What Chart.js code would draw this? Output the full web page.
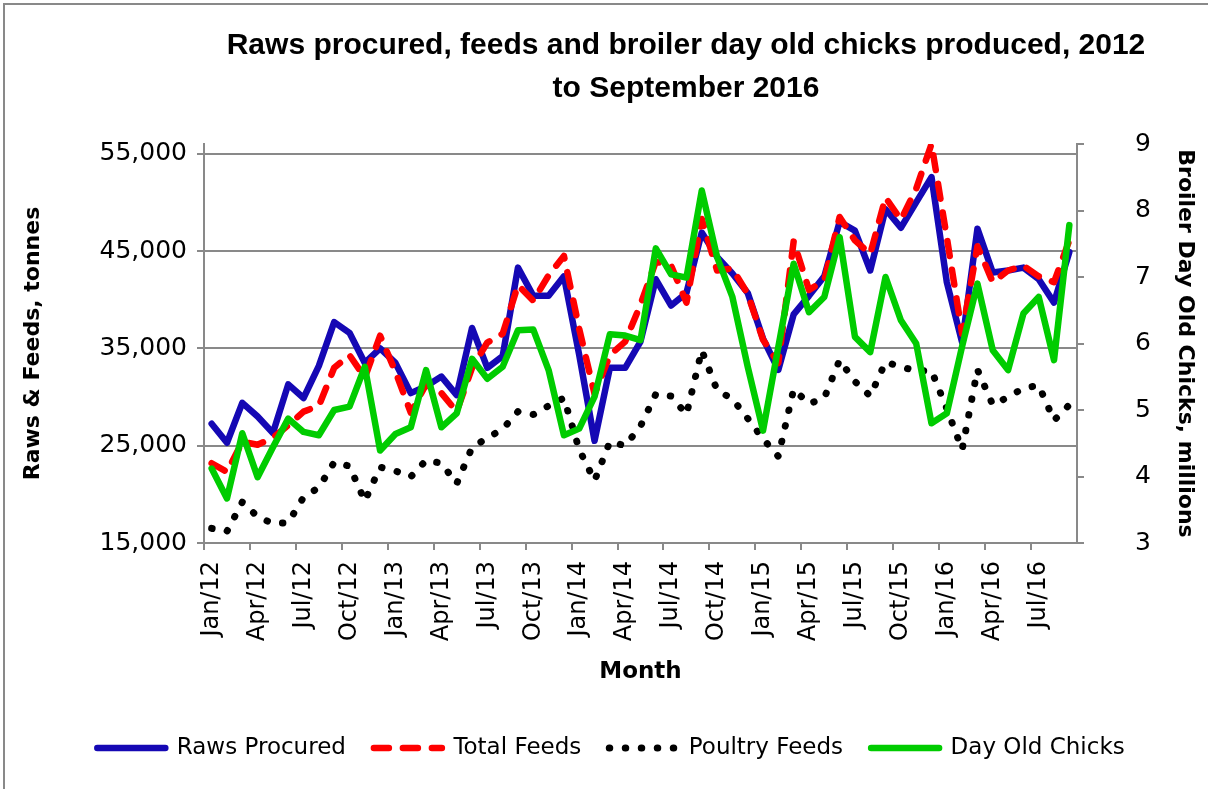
<!DOCTYPE html>
<html>
<head>
<meta charset="utf-8">
<script src="https://cdn.jsdelivr.net/npm/chart.js@4/dist/chart.umd.min.js"></script>
<style>
  body { margin: 0; background: #fff; }
  canvas { display: block; }
</style>
</head>
<body>
<canvas id="chart" width="1208" height="789"></canvas>
<script>
const months = [
  'Jan/12', 'Feb/12', 'Mar/12', 'Apr/12', 'May/12', 'Jun/12', 'Jul/12', 'Aug/12', 'Sep/12', 'Oct/12', 'Nov/12', 'Dec/12',
  'Jan/13', 'Feb/13', 'Mar/13', 'Apr/13', 'May/13', 'Jun/13', 'Jul/13', 'Aug/13', 'Sep/13', 'Oct/13', 'Nov/13', 'Dec/13',
  'Jan/14', 'Feb/14', 'Mar/14', 'Apr/14', 'May/14', 'Jun/14', 'Jul/14', 'Aug/14', 'Sep/14', 'Oct/14', 'Nov/14', 'Dec/14',
  'Jan/15', 'Feb/15', 'Mar/15', 'Apr/15', 'May/15', 'Jun/15', 'Jul/15', 'Aug/15', 'Sep/15', 'Oct/15', 'Nov/15', 'Dec/15',
  'Jan/16', 'Feb/16', 'Mar/16', 'Apr/16', 'May/16', 'Jun/16', 'Jul/16', 'Aug/16', 'Sep/16'
];

// tonnes, left axis
const rawsProcured = [
  27250, 25300, 29400, 28000, 26300, 31300, 29900, 33200, 37700, 36600, 33500, 35000,
  33500, 30400, 31100, 32100, 30200, 37100, 33000, 34200, 43300, 40400, 40400, 42400,
  34300, 25500, 33000, 33000, 35700, 42100, 39400, 40700, 46900, 44400, 42700, 40700,
  36000, 32800, 38500, 40400, 42400, 48000, 47100, 43000, 49300, 47400, 50000, 52600,
  41800, 35600, 47300, 42800, 43000, 43300, 42100, 39700, 44900
];
const totalFeeds = [
  23200, 22300, 25400, 25100, 25800, 27100, 28500, 29100, 33000, 34300, 32000, 36300,
  32600, 28400, 31300, 30400, 28500, 33000, 35600, 36500, 41500, 39900, 42500, 44500,
  37000, 30300, 34300, 35700, 39500, 43900, 43500, 39700, 48300, 43000, 43200, 40600,
  35900, 33500, 46000, 41000, 42000, 48500, 46100, 44700, 50500, 48200, 51400, 56000,
  46400, 36500, 45500, 41800, 43000, 43500, 42400, 41800, 46100
];
const poultryFeeds = [
  16500, 16200, 19200, 17700, 17000, 17100, 19700, 20700, 23300, 22900, 19300, 22800,
  22400, 21800, 23500, 23200, 21100, 24800, 25800, 26700, 28500, 28200, 29100, 29900,
  24600, 21400, 25400, 25000, 27000, 30300, 30100, 28200, 34800, 30700, 29800, 27800,
  25700, 23900, 30800, 29300, 29900, 33800, 31600, 30100, 33600, 33100, 32700, 32700,
  28800, 24600, 32800, 29200, 30000, 30900, 31200, 27600, 29200
];
// millions, right axis
const dayOldChicks = [
  4.12, 3.67, 4.65, 3.99, 4.44, 4.87, 4.67, 4.62, 5.00, 5.05, 5.65, 4.39,
  4.64, 4.74, 5.60, 4.74, 4.95, 5.77, 5.47, 5.65, 6.20, 6.21, 5.60, 4.62,
  4.72, 5.20, 6.14, 6.12, 6.05, 7.43, 7.04, 6.99, 8.30, 7.30, 6.70, 5.65,
  4.69, 5.95, 7.20, 6.47, 6.70, 7.60, 6.10, 5.87, 7.00, 6.35, 6.00, 4.80,
  4.95, 5.96, 6.90, 5.90, 5.60, 6.45, 6.70, 5.75, 7.78
];

const leftTicks = [15000, 25000, 35000, 45000, 55000];
const rightTicks = [3, 4, 5, 6, 7, 8, 9];
const titleLines = ['Raws procured, feeds and broiler day old chicks produced, 2012', 'to September 2016'];

const GREY = '#898989';

Chart.defaults.font.family = "'DejaVu Sans', sans-serif";
Chart.defaults.color = '#000';

// frame round the chart and the two-line title
const frameAndTitle = {
  id: 'frameAndTitle',
  beforeDraw(chart) {
    const ctx = chart.ctx;
    ctx.save();
    ctx.fillStyle = '#fff';
    ctx.fillRect(0, 0, chart.width, chart.height);
    ctx.strokeStyle = GREY;
    ctx.lineWidth = 2;
    ctx.strokeRect(4, 4, chart.width + 20, chart.height + 20);
    ctx.fillStyle = '#000';
    ctx.font = "bold 30px 'Liberation Sans', sans-serif";
    ctx.textAlign = 'center';
    ctx.textBaseline = 'middle';
    ctx.fillText(titleLines[0], 686, 46);
    ctx.fillText(titleLines[1], 686, 89);
    ctx.restore();
  }
};

function lineSet(label, data, axis, color, order, extra) {
  return Object.assign({
    label: label,
    data: data,
    yAxisID: axis,
    borderColor: color,
    backgroundColor: color,
    borderWidth: 6.5,
    borderCapStyle: 'round',
    borderJoinStyle: 'round',
    pointRadius: 0,
    tension: 0,
    fill: false,
    order: order
  }, extra || {});
}

const config = {
  type: 'line',
  data: {
    labels: months,
    datasets: [
      lineSet('Raws Procured', rawsProcured, 'y', '#1508b4', 3),
      lineSet('Total Feeds', totalFeeds, 'y', '#ff0000', 2, { borderDash: [15, 14] }),
      lineSet('Poultry Feeds', poultryFeeds, 'y', '#000000', 1, { borderDash: [0.5, 15.5], borderWidth: 7 }),
      lineSet('Day Old Chicks', dayOldChicks, 'y1', '#00cc00', 0)
    ]
  },
  options: {
    responsive: false,
    animation: false,
    devicePixelRatio: 1,
    layout: { padding: { top: 144, left: 14, right: 0, bottom: 19.5 } },
    plugins: {
      tooltip: { enabled: false },
      legend: {
        position: 'bottom',
        labels: {
          usePointStyle: true,
          pointStyleWidth: 68,
          padding: 28,
          font: { size: 23 },
          color: '#000',
          generateLabels: (chart) => chart.data.datasets.map((ds, i) => ({
            text: ds.label,
            datasetIndex: i,
            hidden: false,
            fillStyle: ds.borderColor,
            strokeStyle: ds.borderColor,
            lineWidth: ds.borderWidth,
            lineDash: ds.borderDash || [],
            lineCap: ds.borderCapStyle,
            pointStyle: 'line'
          }))
        }
      }
    },
    scales: {
      x: {
        offset: true,
        grid: {
          offset: true,
          drawOnChartArea: false,
          tickLength: 7,
          lineWidth: 2,
          color: (ctx) => ctx.index % 3 === 0 ? GREY : 'rgba(0,0,0,0)'
        },
        border: { color: GREY, width: 2 },
        ticks: {
          autoSkip: false,
          minRotation: 90,
          maxRotation: 90,
          padding: 11,
          font: { size: 24 },
          callback: function (value, index) {
            return index % 3 === 0 ? this.getLabelForValue(value) : '';
          }
        },
        title: {
          display: true,
          text: 'Month',
          font: { size: 23, weight: 'bold' },
          padding: { top: 0, bottom: 23 }
        },
        afterFit: (scale) => {
          scale.height = 165.5;
          scale.paddingLeft = 0;
          scale.paddingRight = 0;
        }
      },
      y: {
        position: 'left',
        min: 15000,
        max: 56000,
        afterBuildTicks: (scale) => { scale.ticks = leftTicks.map(v => ({ value: v })); },
        grid: { color: GREY, lineWidth: 2, tickLength: 7 },
        border: { color: GREY, width: 2 },
        ticks: {
          padding: 10,
          font: { size: 25 },
          callback: (v) => v.toLocaleString('en-US')
        },
        title: {
          display: true,
          text: 'Raws & Feeds, tonnes',
          font: { size: 22, weight: 'bold' },
          padding: { top: 6, bottom: 0 }
        },
        afterFit: (scale) => {
          scale.width = 190;
          scale.paddingTop = 0;
          scale.paddingBottom = 0;
        }
      },
      y1: {
        position: 'right',
        min: 3,
        max: 9,
        afterBuildTicks: (scale) => { scale.ticks = rightTicks.map(v => ({ value: v })); },
        grid: { drawOnChartArea: false, color: GREY, lineWidth: 2, tickLength: 7 },
        border: { color: GREY, width: 2 },
        ticks: { padding: 51, font: { size: 25 } },
        title: {
          display: true,
          text: 'Broiler Day Old Chicks, millions',
          font: { size: 22, weight: 'bold' },
          padding: { top: 10, bottom: 0 }
        },
        afterFit: (scale) => {
          scale.width = 131;
          scale.paddingTop = 0;
          scale.paddingBottom = 0;
        }
      }
    }
  },
  plugins: [frameAndTitle]
};

new Chart(document.getElementById('chart'), config);
</script>
</body>
</html>
